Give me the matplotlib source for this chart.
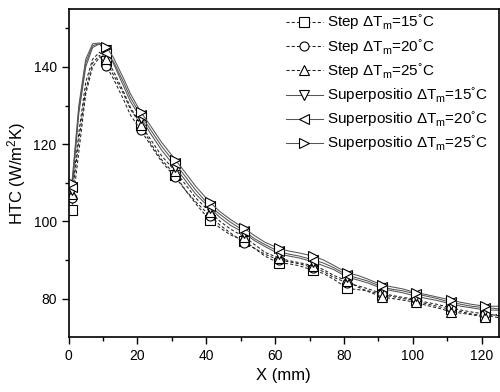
import numpy as np
import matplotlib
matplotlib.use("Agg")
import matplotlib.pyplot as plt

plt.rcParams['font.family'] = ['Liberation Sans', 'DejaVu Sans']
plt.rcParams['mathtext.fontset'] = 'custom'
plt.rcParams['mathtext.rm'] = 'Liberation Sans'
plt.rcParams['mathtext.it'] = 'Liberation Sans:italic'

# x positions (mm) of the curve points
x = [1, 3, 5, 7, 9, 11, 13, 16, 18, 21, 24, 27, 31, 34, 37, 41, 44, 47, 51, 54, 57,
     61, 64, 67, 71, 74, 77, 81, 84, 87, 91, 94, 97, 101, 104, 107, 111, 114, 117,
     121, 123, 125]
# marker positions (indices into x): 1, 11, 21, ... 121 mm
marks = [0, 5, 9, 12, 15, 18, 21, 24, 27, 30, 33, 36, 39]

step15 = [103, 118, 133, 140, 142.5, 141.5, 138, 133, 129, 125, 120, 116, 112, 108, 104.5,
          100.3, 98.3, 96.5, 95, 93, 91, 89.2, 89, 88.5, 87.3, 86.5, 85, 82.6, 82.3, 82, 81,
          80.5, 80, 79.5, 78.6, 78, 77.2, 76.6, 76, 75.6, 75.4, 75]
step20 = [106, 121, 134, 141, 143, 140.2, 137, 131.5, 127.5, 123.6, 119.5, 115.5, 111.4, 108,
          105, 101.5, 99, 97, 94.5, 93, 91.5, 90, 89.5, 89, 88, 87, 85.5, 84, 83.3, 82.5, 81.3,
          80.8, 80.3, 79.8, 79, 78.5, 77.6, 77, 76.5, 76, 75.8, 75.5]
step25 = [107, 123, 136, 142, 143.8, 142, 139, 133.5, 129.5, 125, 121, 117, 113, 109.5, 106,
          102.5, 100, 98, 96, 94, 92, 90.5, 89.8, 89.3, 88.5, 87.5, 86, 84.5, 83, 81.8, 80.4,
          80, 79.6, 79, 78.2, 77.6, 76.6, 76.2, 75.8, 75.2, 75.5, 76]
sup15 = [108, 128, 140, 145, 146, 144.3, 141, 135, 131, 126.8, 122.5, 118.5, 114, 110.5, 107,
         103.5, 101, 99, 97, 95, 93.5, 91.6, 91, 90.5, 89.5, 88.5, 87.5, 85.5, 84.8, 84, 82.6,
         82, 81.5, 80.6, 80, 79.5, 78.6, 78, 77.6, 77, 77, 77]
sup20 = [109, 129, 141, 145.5, 146, 143.5, 141.5, 136, 132, 127.5, 123.5, 119.5, 115, 111.5,
         108, 104, 101.8, 99.8, 97.5, 95.5, 94, 92.2, 91.5, 91, 90, 89.2, 88, 86, 85.3, 84.5,
         83, 82.4, 82, 81.2, 80.6, 80, 79, 78.5, 78, 77.6, 77.5, 77.3]
sup25 = [110, 130, 142, 146, 146.2, 145.2, 142.5, 137, 133, 128.3, 124.5, 120.5, 116, 112.5,
         109, 105, 102.5, 100.5, 98.2, 96.3, 94.6, 93, 92.3, 91.8, 91, 90, 88.6, 86.6, 86, 85,
         83.5, 83, 82.5, 81.5, 81, 80.4, 79.6, 79, 78.5, 78, 78, 78]

labels = [r'Step $\Delta$T$_{\rm m}$=15$^{\rm °}$C',
          r'Step $\Delta$T$_{\rm m}$=20$^{\rm °}$C',
          r'Step $\Delta$T$_{\rm m}$=25$^{\rm °}$C',
          r'Superpositio $\Delta$T$_{\rm m}$=15$^{\rm °}$C',
          r'Superpositio $\Delta$T$_{\rm m}$=20$^{\rm °}$C',
          r'Superpositio $\Delta$T$_{\rm m}$=25$^{\rm °}$C']
series = [step15, step20, step25, sup15, sup20, sup25]
markers = ['s', 'o', '^', 'v', '<', '>']
styles = [(0, (3, 2))] * 3 + ['-'] * 3
colors = ['#222222'] * 3 + ['#555555'] * 3

fig = plt.figure(figsize=(5, 3.92), dpi=100)
ax = fig.add_axes([0.137, 0.14, 0.861, 0.837])

for y, m, ls, c, lab in zip(series, markers, styles, colors, labels):
    ax.plot(x, y, linestyle=ls, color=c, lw=0.75, marker=m, markersize=6.5,
            markerfacecolor='white', markeredgecolor='black', markeredgewidth=0.8,
            markevery=marks, label=lab)

ax.set_xlim(0, 125)
ax.set_ylim(70, 155)
ax.set_xticks(np.arange(0, 121, 20))
ax.set_xticks(np.arange(10, 125, 20), minor=True)
ax.set_yticks(np.arange(80, 141, 20))
ax.set_yticks(np.arange(90, 155, 20), minor=True)
ax.tick_params(direction='out', length=5, width=1, labelsize=10, top=False, right=False)
ax.tick_params(which='minor', direction='out', length=3, width=1)
for s in ax.spines.values():
    s.set_linewidth(1.2)

ax.set_xlabel('X (mm)', fontsize=12)
ax.set_ylabel(r'HTC (W/m$^{\rm 2}$K)', fontsize=12)

ax.legend(loc='upper right', frameon=False, fontsize=11, handlelength=2.4,
          labelspacing=0.3, handletextpad=0.3, borderaxespad=0.3,
          bbox_to_anchor=(1.0, 1.021))

fig.savefig('out.png', dpi=100)
